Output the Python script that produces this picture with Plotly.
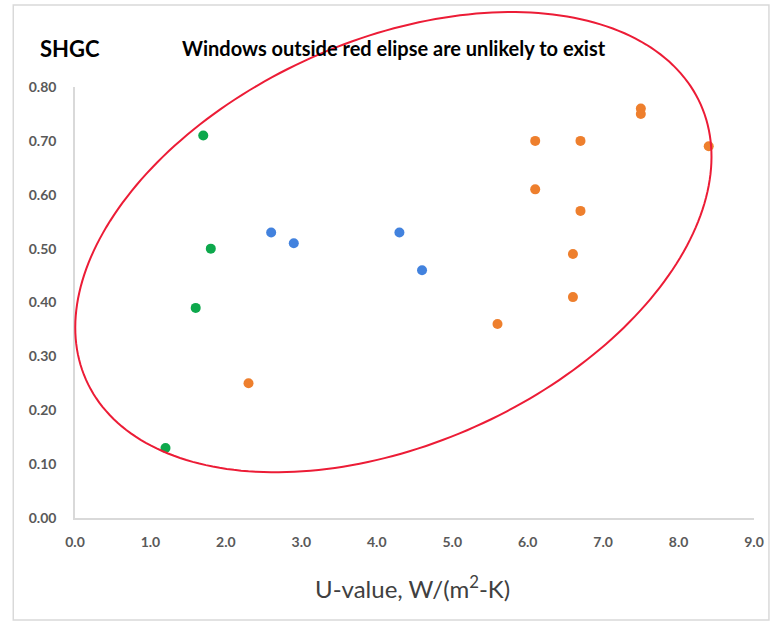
import numpy as np
import plotly.graph_objects as go

# ---------------- data ----------------
green_u = [1.2, 1.6, 1.7, 1.8]
green_shgc = [0.13, 0.39, 0.71, 0.50]

blue_u = [2.6, 2.9, 4.3, 4.6]
blue_shgc = [0.53, 0.51, 0.53, 0.46]

orange_u = [2.3, 5.6, 6.1, 6.1, 6.6, 6.6, 6.7, 6.7, 7.5, 7.5, 8.4]
orange_shgc = [0.25, 0.36, 0.61, 0.70, 0.49, 0.41, 0.70, 0.57, 0.76, 0.75, 0.69]

x_ticks = [0, 1, 2, 3, 4, 5, 6, 7, 8, 9]
y_ticks = [0.0, 0.1, 0.2, 0.3, 0.4, 0.5, 0.6, 0.7, 0.8]

# ---------------- layout constants ----------------
W, H = 776, 623
ML, MR, MT, MB = 75, 19, 87, 105
X_RANGE = [0, 9]
Y_RANGE = [0, 0.8]
PW, PH = W - ML - MR, H - MT - MB
FONT = "Lato"

def px_to_paper(px, py):
    return (px - ML) / PW, (H - MB - py) / PH

fig = go.Figure()
for u, s, col in [(green_u, green_shgc, "#0DA84C"),
                  (blue_u, blue_shgc, "#4282DE"),
                  (orange_u, orange_shgc, "#EE7F2D")]:
    fig.add_trace(go.Scatter(x=u, y=s, mode="markers",
                             marker=dict(size=10, color=col, line=dict(width=0)),
                             showlegend=False, hoverinfo="x+y"))

# ---------------- red ellipse (drawn in paper space, not clipped) ----------------
E_CX, E_CY = 4.22, 0.512          # centre in data units
E_A, E_B = 338.0, 202.0           # semi-axes in pixels
E_ANG = np.deg2rad(24.0)          # tilt, counter-clockwise
cxp = (E_CX - X_RANGE[0]) / (X_RANGE[1] - X_RANGE[0])
cyp = (E_CY - Y_RANGE[0]) / (Y_RANGE[1] - Y_RANGE[0])
t = np.linspace(0, 2 * np.pi, 241)
dx = E_A * np.cos(E_ANG) * np.cos(t) - E_B * np.sin(E_ANG) * np.sin(t)
dy = E_A * np.sin(E_ANG) * np.cos(t) + E_B * np.cos(E_ANG) * np.sin(t)
ex = cxp + dx / PW
ey = cyp + dy / PH
path = "M " + " L ".join(f"{a:.5f},{b:.5f}" for a, b in zip(ex, ey)) + " Z"
fig.add_shape(type="path", path=path, xref="paper", yref="paper",
              line=dict(color="#EC1C36", width=2), layer="above")

# ---------------- outer frame ----------------
fx0, fy0 = px_to_paper(13, 620)
fx1, fy1 = px_to_paper(772, 5)
fig.add_shape(type="rect", xref="paper", yref="paper", x0=fx0, y0=fy0, x1=fx1, y1=fy1,
              line=dict(color="#D9D9D9", width=1.5), layer="below")

# ---------------- text ----------------
ax, ay = px_to_paper(38, 48)
fig.add_annotation(text="SHGC", xref="paper", yref="paper", x=ax, y=ay,
                   xanchor="left", yanchor="middle", showarrow=False,
                   font=dict(family=FONT, size=22, color="#000000", weight="bold"))
ax, ay = px_to_paper(180, 48)
fig.add_annotation(text="Windows outside red elipse are unlikely to exist",
                   xref="paper", yref="paper", x=ax, y=ay,
                   xanchor="left", yanchor="middle", showarrow=False,
                   font=dict(family=FONT, size=20, color="#000000", weight="bold"))
ax, ay = px_to_paper(414, 587)
fig.add_annotation(text="U-value, W/(m<sup>2</sup>-K)", xref="paper", yref="paper",
                   x=ax, y=ay, xanchor="center", yanchor="middle", showarrow=False,
                   font=dict(family=FONT, size=24, color="#404040"))

tickfont = dict(family=FONT, size=14, color="#595959", weight="bold")
fig.update_xaxes(range=X_RANGE, tickvals=x_ticks, ticktext=[f"{v:.1f}" for v in x_ticks],
                 showgrid=False, zeroline=False, showline=True, linecolor="#D9D9D9",
                 linewidth=1.5, ticks="", tickfont=tickfont, ticklabelstandoff=10)
fig.update_yaxes(range=Y_RANGE, tickvals=y_ticks, ticktext=[f"{v:.2f}" for v in y_ticks],
                 showgrid=False, zeroline=False, showline=True, linecolor="#D9D9D9",
                 linewidth=1.5, ticks="", tickfont=tickfont, ticklabelstandoff=14)

fig.update_layout(width=W, height=H, margin=dict(l=ML, r=MR, t=MT, b=MB),
                  plot_bgcolor="white", paper_bgcolor="white",
                  font=dict(family=FONT), showlegend=False)

fig.write_html("out.html")
